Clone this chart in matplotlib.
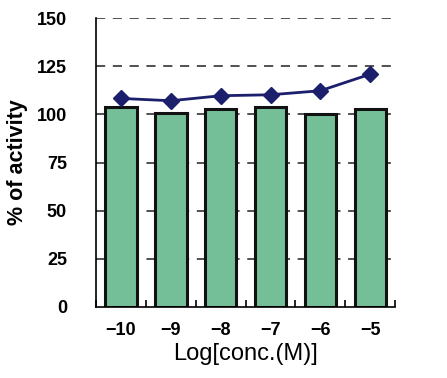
import matplotlib.pyplot as plt
import numpy as np

plt.rcParams['font.family'] = ['Liberation Sans', 'DejaVu Sans']

# data
conc = ['\u221210', '\u22129', '\u22128', '\u22127', '\u22126', '\u22125']
bar_vals = [104, 100.5, 103, 104, 100.2, 102.7]
line_vals = [108.3, 107.1, 109.7, 110.2, 112.3, 120.9]
yticks = [0, 25, 50, 75, 100, 125, 150]

x = np.arange(len(conc))

fig = plt.figure(figsize=(4.47, 3.78), dpi=100)
ax = fig.add_axes([0.215, 0.188, 0.669, 0.764])

# dashed grid behind the bars
for y in yticks[1:]:
    ax.axhline(y, color='#222222', lw=1.1, ls=(0, (6, 5)), zorder=0)

ax.bar(x, bar_vals, width=0.63, color='#74bf97', edgecolor='#111111',
       linewidth=2.2, zorder=2)
ax.plot(x, line_vals, color='#1c1f6b', lw=2, marker='D', markersize=8, zorder=3)

ax.set_xlim(-0.5, 5.5)
ax.set_ylim(0, 150)
ax.set_yticks(yticks)
ax.set_yticklabels([str(v) for v in yticks], fontsize=13, fontweight='bold')

# category labels, ticks at category boundaries
ax.set_xticks(x)
ax.set_xticklabels(conc, fontsize=13, fontweight='bold')
ax.tick_params(axis='x', which='major', length=0, pad=11)
ax.set_xticks(np.arange(-0.5, 6, 1), minor=True)
ax.tick_params(axis='x', which='minor', direction='in', length=5, width=1.2)
ax.tick_params(axis='y', length=0, pad=21)

for s in ['top', 'right']:
    ax.spines[s].set_visible(False)
ax.spines['left'].set_linewidth(1.2)
ax.spines['bottom'].set_linewidth(1.2)

ax.set_ylabel('% of activity', fontsize=15.5, fontweight='bold', labelpad=6)
ax.set_xlabel('Log[conc.(M)]', fontsize=17, fontweight='medium', labelpad=3)

fig.savefig('out.png', dpi=100)
